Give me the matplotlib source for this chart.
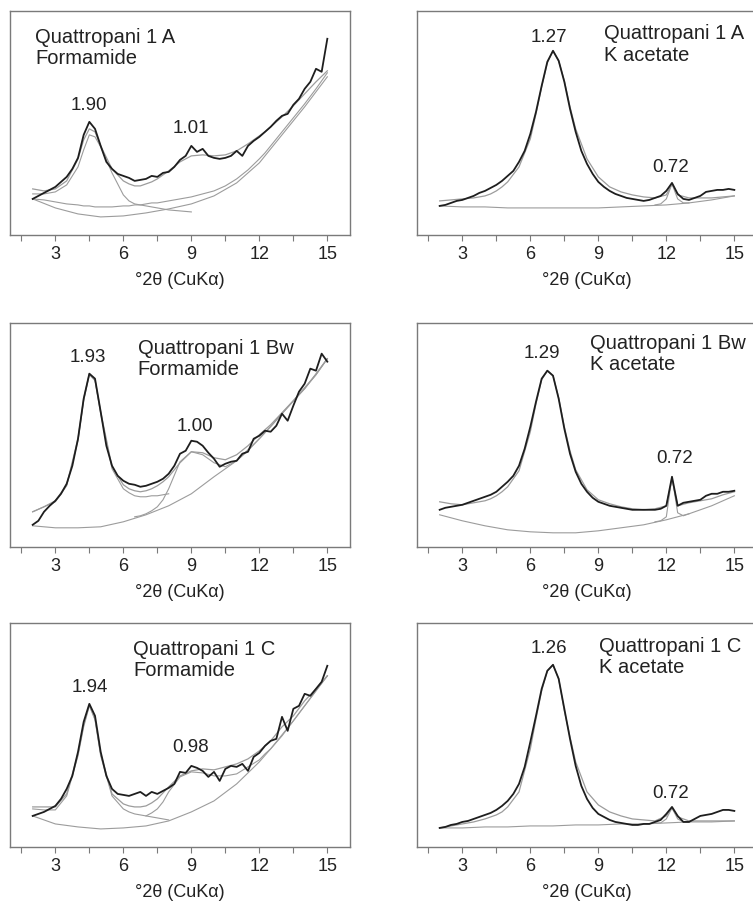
import numpy as np
import matplotlib.pyplot as plt
from matplotlib.ticker import MultipleLocator

plt.rcParams['font.family'] = ['Liberation Sans', 'DejaVu Sans']

# ---- x grids (deg 2theta) ----
X_OBS = np.arange(2, 15.01, 0.25)
X_FIT = [2, 2.5, 3, 3.5, 4, 4.25, 4.5, 4.75, 5, 5.5, 6, 6.25, 6.5, 6.75, 7, 7.25,
         7.5, 7.75, 8, 8.5, 9, 9.5, 10, 10.5, 11, 11.5, 12, 12.25, 12.5, 13, 13.5,
         14, 14.5, 15]
X_BASE = np.arange(2, 16)
X_SMALL = [11.5, 11.75, 12, 12.25, 12.5, 12.75, 13]
nan = np.nan

# ---- Quattropani 1 A, formamide ----
A_FORM_OBS = [36, 39, 42, 45, 48, 53, 58, 66, 77, 100, 113, 106, 89, 73, 66, 61, 59, 57, 54, 55,
              56, 59, 58, 62, 63, 68, 75, 79, 89, 83, 86, 79, 77, 76, 77, 79, 84, 79, 89, 94,
              98, 103, 108, 114, 119, 121, 130, 136, 146, 153, 166, 163, 196]
A_FORM_FIT = [46, 44, 46, 54, 76, 95, 106, 103, 89, 66, 54, 51, 49, 49, 51, 53, 56, 60, 64, 73,
              79, 80, 79, 80, 84, 91, 99, 103, 108, 118, 129, 141, 153, 164]
A_FORM_P1 = [41, 41, 43, 50, 68, 85, 100, 98, 88, 62, 40, 34, 31, 30, 29, 28, 27, 26, 25, 24, 23]
A_FORM_P2 = [36, 35, 33, 31, 30, 29, 29, 28, 28, 28, 29, 29, 30, 30, 31, 32, 32, 33, 34, 36,
             38, 41, 44, 49, 56, 65, 76, 82, 89, 103, 117, 131, 146, 162]
A_FORM_BASE = [36, 27, 21, 18, 19, 22, 26, 31, 39, 52, 72, 100, 128, 158]

# ---- Quattropani 1 A, K acetate ----
A_KAC_OBS = [29, 30, 32, 34, 35, 37, 39, 42, 44, 47, 50, 54, 59, 64, 73, 84, 101, 123, 149, 173,
             184, 174, 153, 126, 103, 84, 71, 61, 53, 48, 44, 41, 39, 37, 36, 35, 34, 35, 37, 39,
             44, 52, 41, 36, 35, 37, 39, 43, 44, 45, 45, 46, 45]
A_KAC_FIT = [34, 35, 36, 37, 39, 41, 44, 48, 53, 68, 96, 121, 148, 172, 184, 174, 154, 128, 106, 76,
             58, 48, 43, 40, 38, 37, 40, 51, 40, 37, 37, 37, 38, 39]
A_KAC_SMALL = [30, 31, 36, 51, 36, 32, 32]
A_KAC_BASE = [29, 28, 28, 27, 27, 27, 27, 27, 28, 29, 30, 32, 35, 39]

# ---- Quattropani 1 Bw, formamide ----
BW_FORM_OBS = [22, 26, 35, 41, 46, 53, 63, 81, 108, 148, 173, 168, 135, 101, 81, 71, 66, 63, 62, 60,
               61, 63, 65, 68, 73, 81, 93, 96, 106, 105, 101, 94, 88, 80, 83, 85, 86, 93, 95, 108,
               111, 116, 115, 121, 133, 126, 141, 155, 163, 178, 176, 193, 185]
BW_FORM_FIT = [35, 40, 46, 62, 108, 148, 173, 167, 135, 80, 62, 58, 56, 55, 56, 58, 61, 65, 70, 84,
               95, 94, 89, 87, 92, 101, 112, 117, 122, 134, 146, 159, 172, 188]
BW_FORM_P1 = [35, 40, 45, 61, 106, 146, 172, 166, 133, 78, 58, 54, 51, 50, 50, 51, 51, 52, 53]
BW_FORM_P2 = [nan] * 12 + [30, 31, 33, 36, 40, 47, 58, 85, 95, 92, 84, 80, 86, 96, 108, 114, 120,
                           133, 146, 158, 172, 188]
BW_FORM_BASE = [21, 19, 19, 20, 25, 32, 41, 53, 70, 86, 108, 133, 158, 188]

# ---- Quattropani 1 Bw, K acetate ----
BW_KAC_OBS = [37, 39, 40, 41, 42, 44, 46, 48, 50, 52, 55, 60, 65, 71, 81, 98, 120, 145, 168, 176,
              171, 148, 118, 93, 75, 63, 55, 49, 45, 43, 41, 40, 39, 38, 37, 37, 37, 37, 37, 38,
              41, 70, 41, 44, 45, 46, 47, 51, 53, 53, 55, 55, 56]
BW_KAC_FIT = [45, 43, 42, 44, 46, 48, 51, 55, 60, 76, 115, 143, 167, 176, 171, 149, 120, 96, 77, 57,
              47, 43, 40, 38, 37, 38, 41, 68, 41, 44, 46, 48, 52, 55]
BW_KAC_SMALL = [25, 26, 30, 70, 34, 31, 33]
BW_KAC_BASE = [32, 26, 21, 17, 15, 14, 14, 16, 19, 22, 27, 33, 41, 51]

# ---- Quattropani 1 C, formamide ----
C_FORM_OBS = [31, 33, 35, 38, 41, 48, 58, 71, 95, 125, 143, 131, 95, 71, 58, 53, 52, 51, 53, 55,
              51, 55, 53, 56, 59, 63, 75, 74, 81, 79, 76, 70, 75, 66, 78, 81, 80, 83, 76, 90,
              94, 101, 106, 108, 130, 116, 138, 141, 153, 151, 158, 165, 181]
C_FORM_FIT = [40, 40, 40, 53, 93, 122, 142, 128, 93, 53, 43, 41, 40, 40, 41, 44, 48, 54, 60, 71,
              76, 78, 77, 80, 83, 88, 96, 101, 106, 120, 131, 146, 158, 171]
C_FORM_P1 = [38, 37, 37, 51, 91, 120, 141, 127, 91, 51, 38, 35, 33, 32, 31, 30, 29, 28, 27]
C_FORM_P2 = [nan] * 14 + [31, 34, 38, 45, 55, 70, 75, 74, 71, 71, 73, 80, 87, 93, 98, 112, 126,
                          141, 156, 171]
C_FORM_BASE = [31, 23, 20, 18, 19, 21, 26, 35, 46, 63, 85, 111, 141, 171]

# ---- Quattropani 1 C, K acetate ----
C_KAC_OBS = [19, 20, 22, 23, 25, 26, 28, 30, 32, 34, 37, 41, 46, 53, 63, 80, 105, 131, 158, 176,
             182, 168, 138, 108, 81, 61, 48, 39, 33, 30, 27, 25, 24, 23, 22, 22, 23, 23, 25, 27,
             33, 40, 31, 25, 25, 28, 31, 32, 33, 35, 37, 37, 36]
C_KAC_FIT = [19, 21, 23, 25, 28, 30, 32, 35, 40, 55, 98, 128, 156, 176, 182, 168, 136, 110, 85, 55,
             42, 35, 31, 28, 27, 26, 31, 39, 30, 26, 26, 26, 26, 26]
C_KAC_SMALL = [24, 24, 28, 39, 28, 25, 25]
C_KAC_BASE = [19, 19, 20, 20, 21, 21, 22, 22, 23, 23, 24, 25, 25, 26]

# ---- labels ----
SAMPLES = ["Quattropani 1 A", "Quattropani 1 Bw", "Quattropani 1 C"]
TREATMENTS = ["Formamide", "K acetate"]
PEAK_LABELS = [["1.90", "1.01"], ["1.27", "0.72"],
               ["1.93", "1.00"], ["1.29", "0.72"],
               ["1.94", "0.98"], ["1.26", "0.72"]]
XLABEL = "°2θ (CuKα)"

BLACK = "#1e1e1e"
GRAY = "#9c9c9c"
FRAME = "#7a7a7a"

# panel layout (figure fractions) and label placement
row_bottoms = [0.739, 0.394, 0.062]
col_lefts = [0.0133, 0.5538]
ax_w, ax_h = 0.4515, 0.248

panels = [
    (A_FORM_OBS, A_FORM_FIT, [A_FORM_P1, A_FORM_P2], None, A_FORM_BASE),
    (A_KAC_OBS, A_KAC_FIT, [], A_KAC_SMALL, A_KAC_BASE),
    (BW_FORM_OBS, BW_FORM_FIT, [BW_FORM_P1, BW_FORM_P2], None, BW_FORM_BASE),
    (BW_KAC_OBS, BW_KAC_FIT, [], BW_KAC_SMALL, BW_KAC_BASE),
    (C_FORM_OBS, C_FORM_FIT, [C_FORM_P1, C_FORM_P2], None, C_FORM_BASE),
    (C_KAC_OBS, C_KAC_FIT, [], C_KAC_SMALL, C_KAC_BASE),
]
title_pos = [(0.074, 0.929), (0.55, 0.946), (0.376, 0.933),
             (0.51, 0.955), (0.362, 0.929), (0.535, 0.942)]
peak_pos = [[(4.46, 126), (8.96, 103)], [(6.84, 194), (12.2, 64)],
            [(4.42, 186), (9.18, 117)], [(6.53, 190), (12.35, 85)],
            [(4.5, 156), (8.96, 96)], [(6.84, 195), (12.2, 50)]]

fig = plt.figure(figsize=(7.53, 9.04), dpi=100)

for i, (obs, fit, comps, small, base) in enumerate(panels):
    row, col = divmod(i, 2)
    ax = fig.add_axes([col_lefts[col], row_bottoms[row], ax_w, ax_h])

    ax.plot(X_BASE, base, color=GRAY, lw=0.8)
    for c in comps:
        ax.plot(X_FIT[:len(c)], c, color=GRAY, lw=0.8)
    if small is not None:
        ax.plot(X_SMALL, small, color=GRAY, lw=0.8)
    ax.plot(X_FIT, fit, color=GRAY, lw=0.9)
    ax.plot(X_OBS, obs, color=BLACK, lw=1.3)

    ax.set_xlim(1, 16)
    ax.set_ylim(0, 224)
    ax.xaxis.set_major_locator(MultipleLocator(3))
    ax.xaxis.set_minor_locator(MultipleLocator(1.5))
    ax.set_yticks([])
    ax.tick_params(axis='x', which='both', direction='out', length=4, width=0.8,
                   color=FRAME, labelsize=13, labelcolor="#222222", pad=3)
    for s in ax.spines.values():
        s.set_color(FRAME)
        s.set_linewidth(1.0)
    ax.set_xlabel(XLABEL, fontsize=13, color="#222222", labelpad=7)

    tx, ty = title_pos[i]
    ax.text(tx, ty, SAMPLES[row] + "\n" + TREATMENTS[col], transform=ax.transAxes,
            ha='left', va='top', fontsize=14.5, color="#222222", linespacing=1.18)
    for lab, (px, py) in zip(PEAK_LABELS[i], peak_pos[i]):
        ax.text(px, py, lab, ha='center', va='baseline', fontsize=13.5, color="#222222")

fig.savefig("out.png", dpi=100)
